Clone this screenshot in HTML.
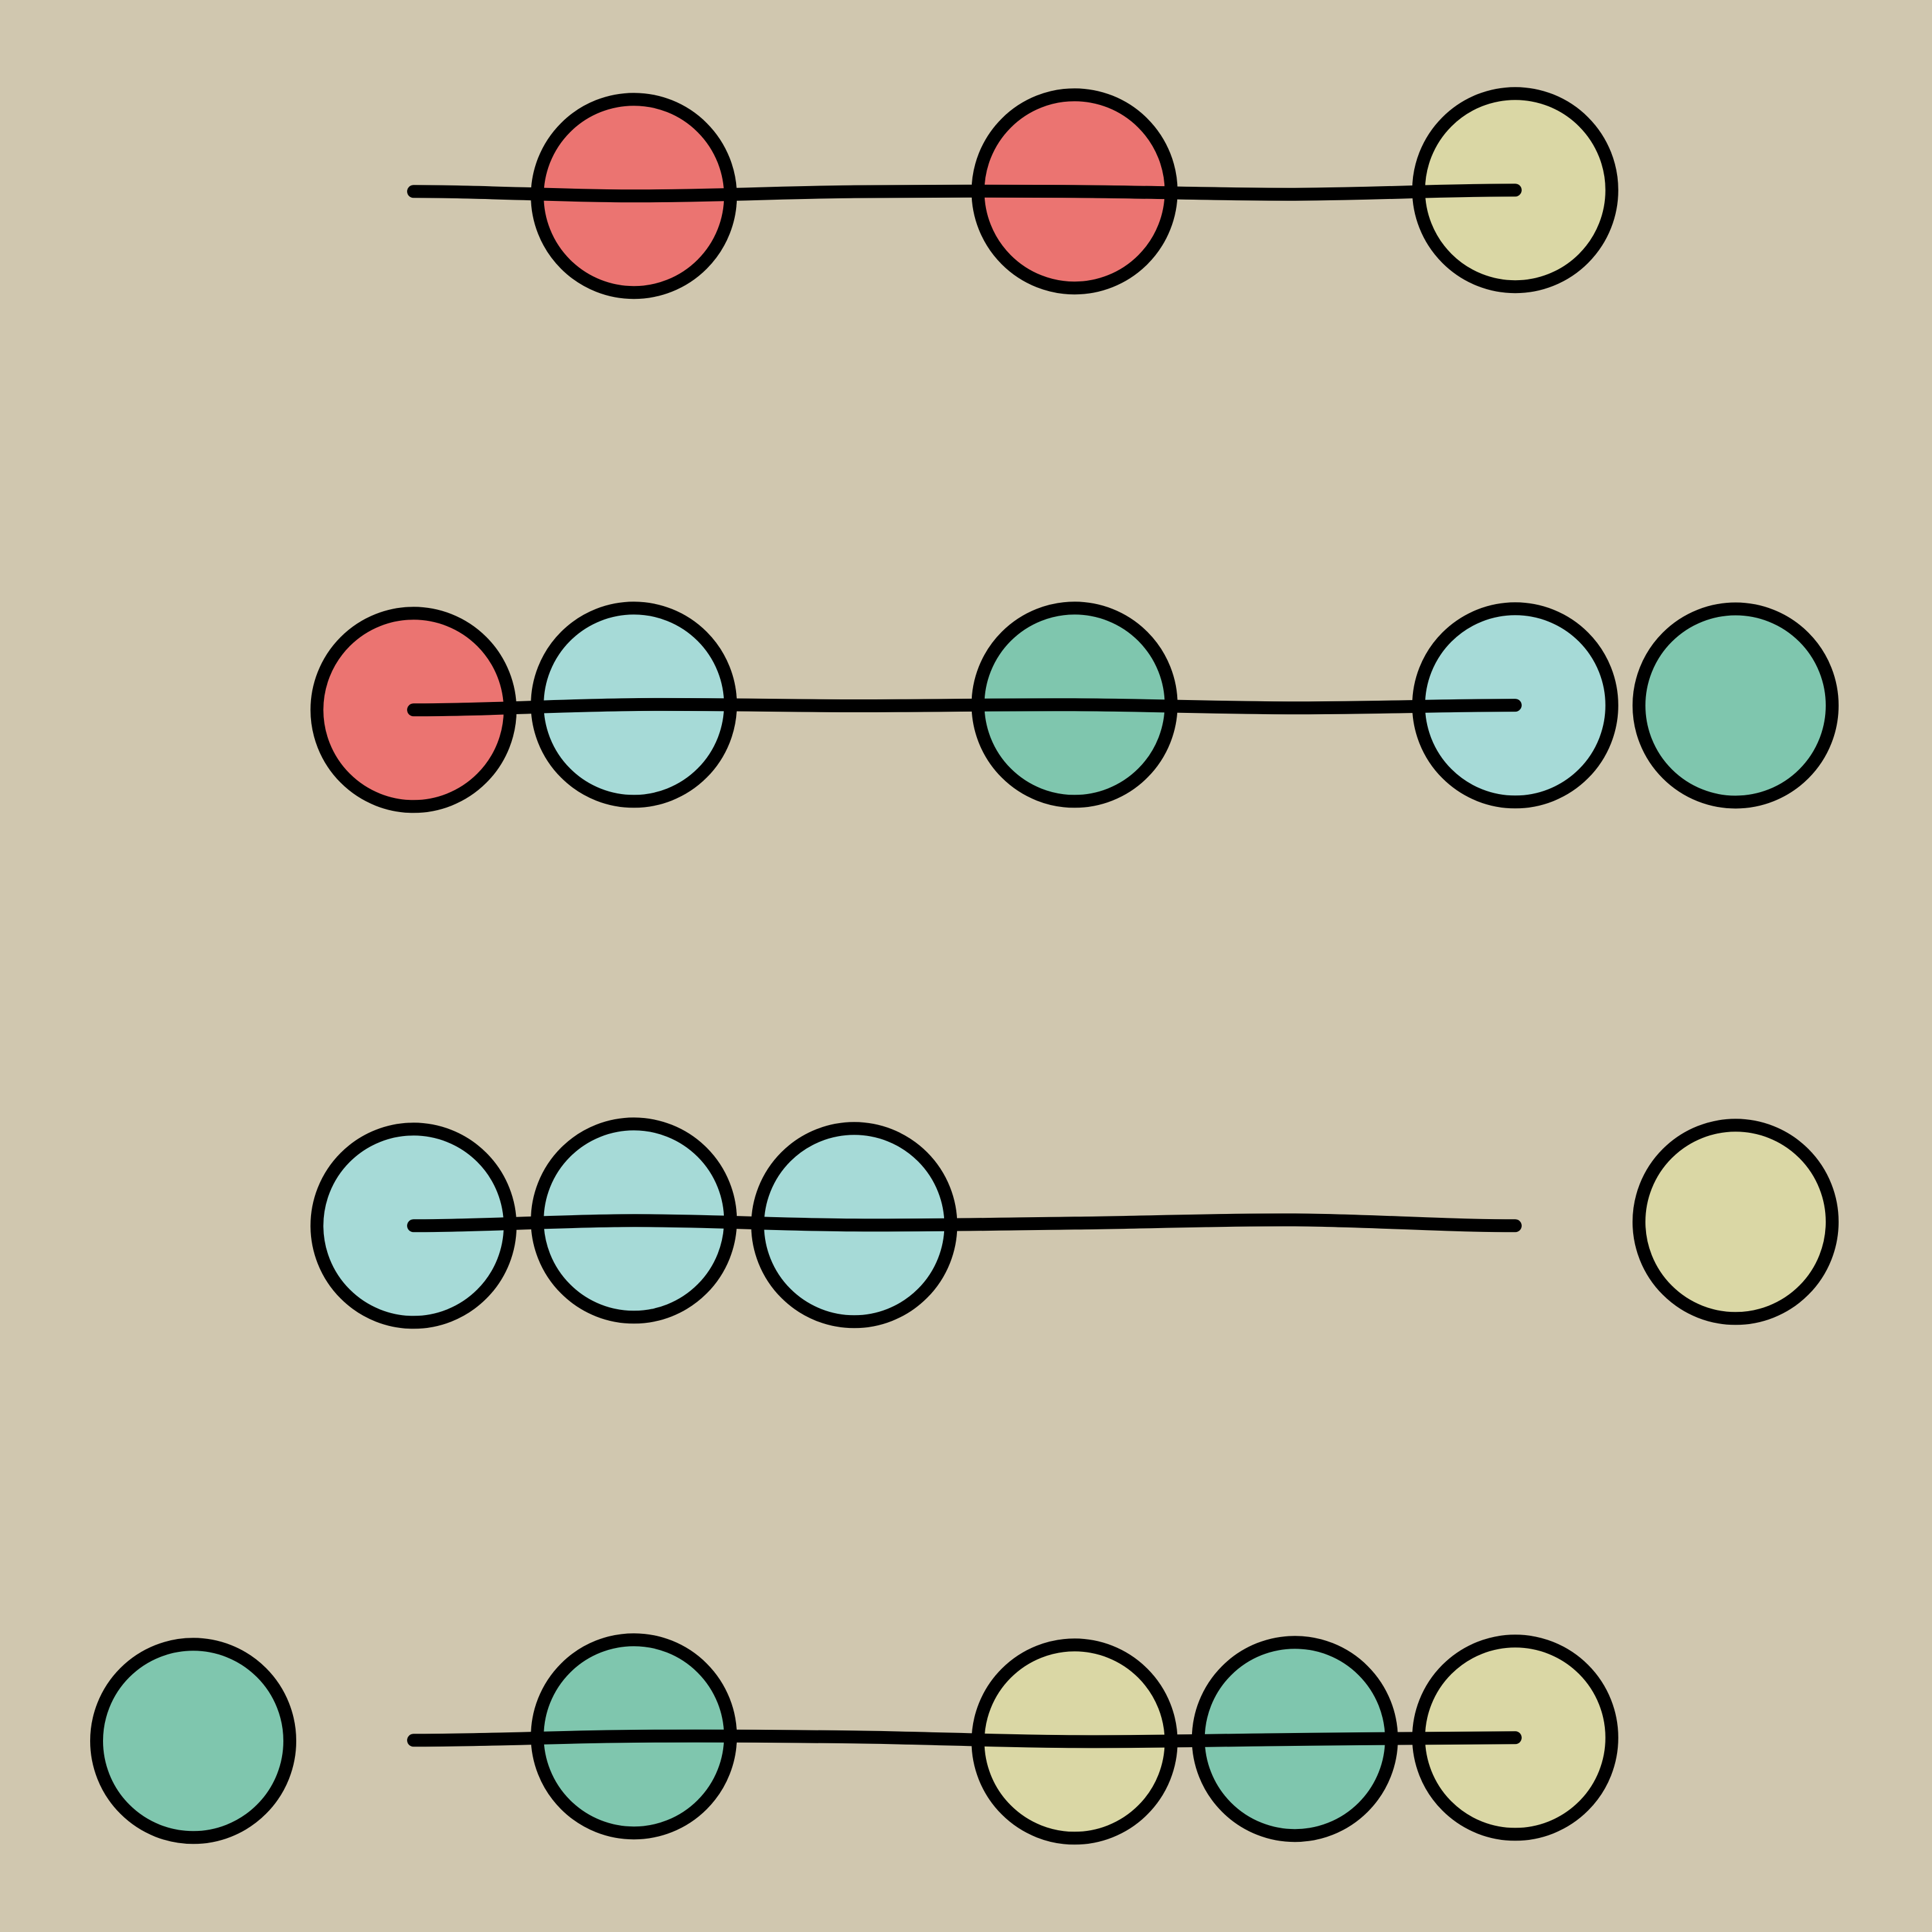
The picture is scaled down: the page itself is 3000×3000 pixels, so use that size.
<!DOCTYPE html>
<html lang="en">
<head>
<meta charset="utf-8">
<title>Beads on curves chart</title>
<style>
  html, body { margin: 0; padding: 0; width: 3000px; height: 3000px; background: #d0c7af; overflow: hidden; }
  svg { display: block; }
</style>
</head>
<body>
<svg id="chart" xmlns="http://www.w3.org/2000/svg" width="3000" height="3000" viewBox="0 0 3000 3000">
  <rect x="0" y="0" width="3000" height="3000" fill="#d0c7af"></rect>
</svg>
<script>
// Rows and columns of the chart
const rows = [0, 1, 2, 3];
const lineColumns = [1, 2, 3, 4, 5, 6];

// Curve offsets per row, one per entry of lineColumns
const lineRow0 = [-2.7, 4.3, -2.4, -2.8, 1.7, -4.8];
const lineRow1 = [2.3, -5.9, -4, -5.7, -0.7, -4.9];
const lineRow2 = [3.3, -4.7, 2.3, -0.7, -5.7, 3.3];
const lineRow3 = [2.3, -4, -2.7, 4.3, 1, -1.7];

// Bead columns per row
const beadColsRow0 = [2, 4, 6];
const beadColsRow1 = [1, 2, 4, 6, 7];
const beadColsRow2 = [1, 2, 3, 7];
const beadColsRow3 = [0, 2, 4, 5, 6];

// Bead offsets per row
const beadOffsRow0 = [4.2, -2.8, -4.8];
const beadOffsRow1 = [2.3, -5.7, -5.7, -4.7, -4.5];
const beadOffsRow2 = [3.3, -4.7, 2.3, -2.7];
const beadOffsRow3 = [3.3, -3.8, 4.3, 0.2, -1.7];

// Bead categories per row
const beadKindsRow0 = ['red', 'red', 'yellow'];
const beadKindsRow1 = ['red', 'cyan', 'green', 'cyan', 'green'];
const beadKindsRow2 = ['cyan', 'cyan', 'cyan', 'yellow'];
const beadKindsRow3 = ['green', 'green', 'yellow', 'green', 'yellow'];

const lineSeries = [lineRow0, lineRow1, lineRow2, lineRow3];
const beadCols = [beadColsRow0, beadColsRow1, beadColsRow2, beadColsRow3];
const beadOffs = [beadOffsRow0, beadOffsRow1, beadOffsRow2, beadOffsRow3];
const beadKinds = [beadKindsRow0, beadKindsRow1, beadKindsRow2, beadKindsRow3];

const kindColor = { red: '#eb7471', cyan: '#a6dad7', green: '#7fc6ae', yellow: '#dad7a5' };

function xAxis(column) { return 300 + column * (2395 / 7); }
function yAxis(row, offset) { return 300 + row * 800 + offset; }

function curvePath(points) {
  const p = points;
  const last = p.length - 1;
  let d = 'M' + p[0][0].toFixed(2) + ' ' + p[0][1].toFixed(2);
  for (let i = 0; i < last; i++) {
    const p1 = p[i];
    const p2 = p[i + 1];
    const dx = (p2[0] - p1[0]) / 3;
    const slope1 = i === 0 ? 0 : (p2[1] - p[i - 1][1]) / 6;
    const slope2 = i === last - 1 ? 0 : (p[i + 2][1] - p1[1]) / 6;
    const c1x = p1[0] + dx;
    const c1y = p1[1] + slope1;
    const c2x = p2[0] - dx;
    const c2y = p2[1] - slope2;
    d += 'C' + c1x.toFixed(2) + ' ' + c1y.toFixed(2) + ' ' + c2x.toFixed(2) + ' ' + c2y.toFixed(2) + ' ' + p2[0].toFixed(2) + ' ' + p2[1].toFixed(2);
  }
  return d;
}

const svgNS = 'http://www.w3.org/2000/svg';
const chart = document.getElementById('chart');

rows.forEach(function (row) {
  const group = document.createElementNS(svgNS, 'g');
  
  
  chart.appendChild(group);

  beadCols[row].forEach(function (column, i) {
    const bead = document.createElementNS(svgNS, 'circle');
    
    
    bead.setAttribute('cx', xAxis(column).toFixed(2));
    bead.setAttribute('cy', yAxis(row, beadOffs[row][i]).toFixed(2));
    bead.setAttribute('r', '150');
    bead.setAttribute('fill', kindColor[beadKinds[row][i]]);
    bead.setAttribute('stroke', '#000000');
    bead.setAttribute('stroke-width', '20');
    group.appendChild(bead);
  });

  const points = lineColumns.map(function (column, i) {
    return [xAxis(column), yAxis(row, lineSeries[row][i])];
  });
  const line = document.createElementNS(svgNS, 'path');
  
  
  line.setAttribute('d', curvePath(points));
  line.setAttribute('fill', 'none');
  line.setAttribute('stroke', '#000000');
  line.setAttribute('stroke-width', '20');
  line.setAttribute('stroke-linecap', 'round');
  line.setAttribute('stroke-linejoin', 'round');
  group.appendChild(line);
});
</script>
</body>
</html>
